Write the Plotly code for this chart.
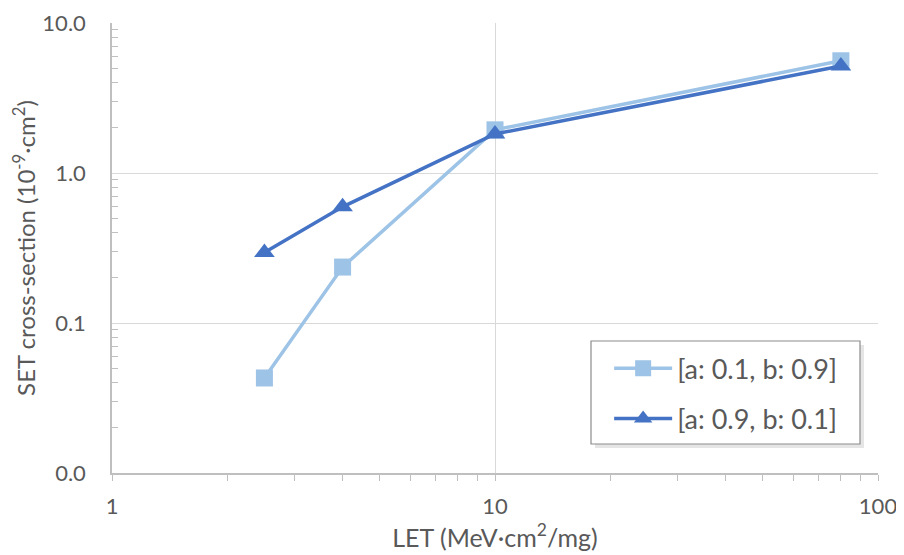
import plotly.graph_objects as go

let_values = [2.5, 4.0, 10.0, 80.0]
series_a_name = "[a: 0.1, b: 0.9]"
series_a = [0.043, 0.236, 1.94, 5.6]
series_b_name = "[a: 0.9, b: 0.1]"
series_b = [0.295, 0.595, 1.82, 5.17]

y_tickvals = [0.01, 0.1, 1, 10]
y_ticktext = ["0.0", "0.1", "1.0", "10.0"]
y_minor = [m * 10 ** e for e in (-2, -1, 0) for m in range(2, 10)]
x_tickvals = [1, 10, 100]
x_ticktext = ["1", "10", "100"]
x_minor = [m * 10 ** e for e in (0, 1) for m in range(2, 10)]

font_family = "Lato, 'Noto Sans', sans-serif"
text_color = "#595959"

fig = go.Figure()
fig.add_trace(go.Scatter(
    x=let_values, y=series_a, name=series_a_name, mode="lines+markers",
    line=dict(color="#9DC3E6", width=3.5),
    marker=dict(symbol="square", size=17, color="#9DC3E6"),
    legendgroup="a",
))
fig.add_trace(go.Scatter(
    x=let_values, y=series_b, name=series_b_name, mode="lines+markers",
    line=dict(color="#4472C4", width=3.5),
    marker=dict(symbol="triangle-up", size=18, color="#4472C4"),
    legendgroup="b",
))

# legend frame (drawn as shapes, with a soft shadow)
px_w, px_h = 766.0, 450.0
fx0, fx1 = (591 - 112) / px_w, (860 - 112) / px_w
fy0, fy1 = (473 - 444) / px_h, (473 - 341) / px_h
sdx, sdy = 4 / px_w, 4 / px_h
fig.add_shape(type="rect", xref="paper", yref="paper",
              x0=fx0 + sdx, x1=fx1 + sdx, y0=fy0 - sdy, y1=fy1 - sdy,
              line=dict(width=0), fillcolor="rgba(0,0,0,0.10)", layer="below")
fig.add_shape(type="rect", xref="paper", yref="paper",
              x0=fx0, x1=fx1, y0=fy0, y1=fy1,
              line=dict(width=1.2, color="#8C8C8C"), fillcolor="white", layer="below")

fig.update_layout(
    width=896, height=547,
    margin=dict(l=104, r=26, t=15, b=82, autoexpand=False),
    paper_bgcolor="white", plot_bgcolor="white",
    font=dict(family=font_family, size=22, color=text_color),
    legend=dict(
        x=0.649, y=0.286, xanchor="left", yanchor="top",
        borderwidth=0, bgcolor="rgba(0,0,0,0)",
        font=dict(size=27, color=text_color),
        tracegroupgap=12, itemwidth=58,
    ),
    showlegend=True,
)
fig.update_xaxes(
    type="log", range=[0, 2], automargin=False,
    tickvals=x_tickvals, ticktext=x_ticktext,
    showgrid=True, gridcolor="#D9D9D9", gridwidth=1,
    showline=True, linecolor="#BFBFBF", linewidth=1.5,
    ticks="outside", ticklen=6, tickcolor="#BFBFBF",
    minor=dict(tickvals=x_minor, ticks="outside", ticklen=6, tickcolor="#BFBFBF", showgrid=False),
    tickfont=dict(size=22, color=text_color),
    ticklabelstandoff=7,
    title=dict(text="LET (MeV·cm<sup>2</sup>/mg)", font=dict(size=25, color=text_color), standoff=8),
    zeroline=False,
)
fig.update_yaxes(
    type="log", range=[-2, 1], automargin=False,
    tickvals=y_tickvals, ticktext=y_ticktext,
    showgrid=True, gridcolor="#D9D9D9", gridwidth=1,
    showline=True, linecolor="#BFBFBF", linewidth=1.5,
    ticks="",
    minor=dict(tickvals=y_minor, ticks="inside", ticklen=6, tickcolor="#BFBFBF", showgrid=False),
    tickfont=dict(size=22, color=text_color),
    ticklabelstandoff=20,
    title=dict(text="SET cross-section (10<sup>-9</sup>·cm<sup>2</sup>)", font=dict(size=24, color=text_color), standoff=17),
    zeroline=False,
)

fig.write_html("out.html")
